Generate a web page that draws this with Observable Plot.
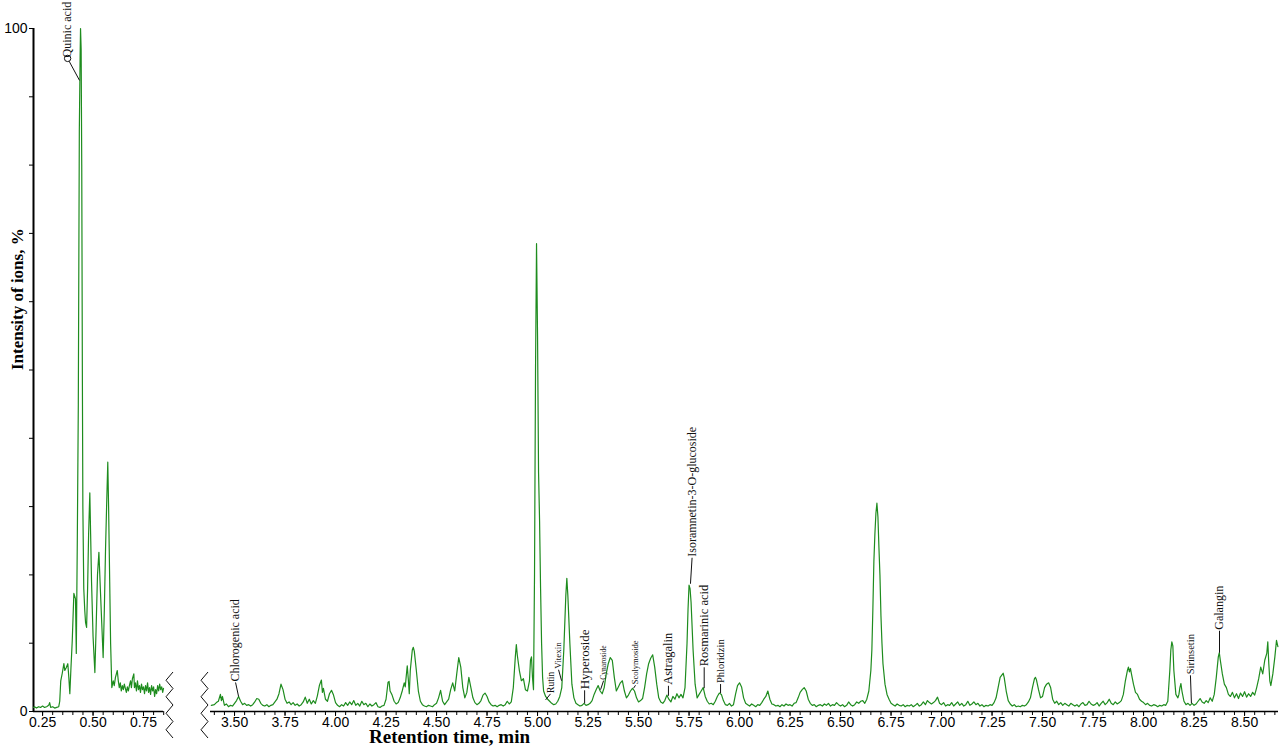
<!DOCTYPE html>
<html>
<head>
<meta charset="utf-8">
<script src="https://cdn.jsdelivr.net/npm/d3@7"></script>
<script src="https://cdn.jsdelivr.net/npm/@observablehq/plot@0.6"></script>
<style>
  body { margin: 0; background: #fff; }
  #wrap { position: relative; width: 1280px; height: 748px; overflow: hidden; background: #fff; }
  #wrap > svg { position: absolute; top: 0; }
</style>
</head>
<body>
<div id="wrap"></div>
<script>
// ---------------- DATA ----------------
// Left segment of the chromatogram: [retention time (min), intensity (%)]
const leftTrace = [
  [0.205,0.6],[0.21,0.7],[0.22,0.5],[0.23,0.7],[0.24,0.6],[0.25,0.8],[0.26,0.6],[0.27,0.7],[0.28,0.9],[0.285,1.3],
  [0.29,0.6],[0.30,0.7],[0.31,0.5],[0.32,0.6],[0.33,0.7],[0.335,1.5],[0.34,4.5],[0.3475,5.6],[0.3555,7.0],[0.36,6.0],
  [0.367,6.4],[0.375,7.0],[0.38,5.0],[0.385,2.6],[0.39,6.0],[0.397,10.4],[0.405,17.3],[0.413,16.5],[0.417,8.5],[0.422,25],
  [0.427,45],[0.432,85],[0.436,96],[0.438,100],[0.441,97],[0.444,80],[0.447,50],[0.4495,30],[0.454,18],[0.459,14.8],
  [0.463,13],[0.468,12.3],[0.473,18],[0.478,26],[0.484,32],[0.488,26],[0.4925,19],[0.50,11],[0.509,5.7],[0.515,12],
  [0.522,20],[0.529,23.3],[0.537,17.3],[0.543,13],[0.55,7.9],[0.556,15],[0.562,24],[0.568,31],[0.573,36.5],[0.577,30],
  [0.580,24],[0.587,10],[0.593,3.5],[0.60,4.5],[0.605,3.8],[0.611,5.0],[0.62,6.0],[0.625,4.5],[0.63,3.5],[0.635,4.2],
  [0.64,3.0],[0.645,3.8],[0.65,3.2],[0.655,4.0],[0.66,3.4],[0.665,2.8],[0.67,3.6],[0.675,3.0],[0.68,3.8],[0.686,4.5],
  [0.69,3.5],[0.695,4.8],[0.702,5.5],[0.705,3.5],[0.71,4.2],[0.715,3.0],[0.72,4.5],[0.725,3.2],[0.73,3.8],[0.735,2.8],
  [0.74,4.0],[0.745,3.2],[0.75,3.6],[0.755,2.6],[0.76,3.8],[0.765,3.0],[0.77,4.2],[0.775,2.8],[0.78,3.5],[0.785,2.5],
  [0.79,3.8],[0.795,3.0],[0.80,3.6],[0.805,2.2],[0.81,3.2],[0.815,2.6],[0.82,3.8],[0.825,3.0],[0.83,4.0],[0.835,3.2],
  [0.84,3.6],[0.845,2.8],[0.849,3.4]
];

// Right segment of the chromatogram: [retention time (min), intensity (%)]
const rightTrace = [
  [3.385,0.9],[3.40,1.0],[3.41,1.3],[3.42,1.5],[3.43,2.5],[3.435,1.6],[3.44,2.2],[3.45,0.9],[3.46,1.1],[3.47,0.7],
  [3.48,0.9],[3.49,0.8],[3.50,1.2],[3.51,1.6],[3.52,2.2],[3.53,1.5],[3.54,1.0],[3.55,1.2],[3.56,0.9],[3.57,1.0],
  [3.58,0.8],[3.59,1.0],[3.60,1.4],[3.61,1.9],[3.62,1.8],[3.63,1.2],[3.64,0.9],[3.65,0.8],[3.66,1.0],[3.67,0.7],
  [3.68,0.9],[3.69,1.0],[3.70,1.4],[3.71,1.8],[3.72,2.6],[3.73,4.0],[3.74,3.2],[3.75,1.8],[3.76,1.2],[3.77,1.4],
  [3.78,1.0],[3.79,1.3],[3.80,0.9],[3.81,1.1],[3.82,0.8],[3.83,1.0],[3.84,1.4],[3.85,2.1],[3.86,1.2],[3.87,1.8],
  [3.88,1.1],[3.89,1.6],[3.90,1.2],[3.91,2.3],[3.92,3.8],[3.93,4.6],[3.935,2.8],[3.94,3.4],[3.95,1.8],[3.96,1.5],
  [3.97,2.6],[3.98,3.1],[3.99,2.4],[4.00,1.3],[4.01,0.9],[4.02,0.7],[4.03,1.0],[4.04,0.8],[4.05,1.3],[4.06,0.9],
  [4.07,1.4],[4.08,1.0],[4.09,1.6],[4.10,0.9],[4.11,1.2],[4.12,0.8],[4.13,1.5],[4.14,1.0],[4.15,1.2],[4.16,0.7],
  [4.17,1.1],[4.18,0.8],[4.19,1.0],[4.20,1.3],[4.21,0.7],[4.22,0.6],[4.23,0.8],[4.24,0.9],[4.25,1.8],[4.26,4.3],
  [4.265,4.4],[4.27,3.0],[4.28,2.4],[4.29,1.5],[4.30,1.1],[4.31,1.3],[4.32,2.0],[4.33,3.0],[4.34,4.2],[4.345,3.6],
  [4.355,6.7],[4.36,4.8],[4.365,2.6],[4.37,6.0],[4.38,9.0],[4.385,9.4],[4.39,8.8],[4.40,6.0],[4.41,3.0],[4.42,1.5],
  [4.43,1.0],[4.44,0.8],[4.45,0.7],[4.46,0.9],[4.47,0.8],[4.48,0.7],[4.49,1.0],[4.50,1.2],[4.51,2.0],[4.52,3.1],
  [4.53,1.5],[4.54,1.0],[4.55,1.4],[4.56,1.8],[4.57,3.2],[4.58,4.2],[4.59,3.0],[4.60,5.5],[4.61,7.9],[4.62,6.5],
  [4.63,3.5],[4.64,2.0],[4.65,2.8],[4.66,5.0],[4.67,3.5],[4.68,2.0],[4.69,1.3],[4.70,1.0],[4.71,1.2],[4.72,1.6],
  [4.73,2.4],[4.74,2.7],[4.75,2.2],[4.76,1.4],[4.77,1.0],[4.78,0.8],[4.79,0.9],[4.80,0.7],[4.81,0.9],[4.82,1.0],
  [4.83,0.8],[4.84,1.0],[4.85,1.5],[4.86,1.1],[4.87,1.4],[4.88,3.5],[4.89,8.0],[4.895,9.8],[4.90,8.2],[4.91,6.0],
  [4.92,4.5],[4.93,4.8],[4.94,3.2],[4.95,3.0],[4.96,4.5],[4.965,7.5],[4.97,8.0],[4.975,5.0],[4.98,3.2],[4.985,20],
  [4.99,50],[4.995,68.5],[5.00,55],[5.005,35],[5.01,28],[5.015,18],[5.02,10],[5.025,5],[5.03,3.0],[5.04,2.2],
  [5.05,1.8],[5.06,1.5],[5.07,1.2],[5.08,1.0],[5.09,1.1],[5.10,1.5],[5.11,2.2],[5.12,3.5],[5.13,9],[5.14,17],
  [5.145,19.5],[5.15,17],[5.16,10],[5.17,4],[5.18,2],[5.19,1.2],[5.20,1.0],[5.21,0.8],[5.22,0.9],[5.23,1.2],
  [5.24,0.9],[5.25,1.0],[5.26,1.2],[5.27,1.6],[5.28,2.5],[5.29,3.2],[5.30,3.8],[5.31,3.0],[5.32,2.6],[5.33,3.5],
  [5.34,5.5],[5.35,7.0],[5.36,7.9],[5.37,7.5],[5.38,5.0],[5.39,3.0],[5.40,3.6],[5.41,4.2],[5.42,4.5],[5.43,3.0],
  [5.44,2.0],[5.45,2.4],[5.46,3.0],[5.47,3.4],[5.48,3.0],[5.49,2.0],[5.50,1.4],[5.51,1.6],[5.52,1.9],[5.53,3.5],
  [5.54,5.5],[5.55,7.0],[5.56,7.8],[5.57,8.3],[5.58,6.5],[5.59,4.0],[5.60,2.0],[5.61,1.4],[5.62,1.2],[5.63,1.6],
  [5.64,2.4],[5.65,1.8],[5.66,1.4],[5.67,2.2],[5.68,1.8],[5.69,2.6],[5.70,2.0],[5.71,2.5],[5.72,2.0],[5.73,3.5],
  [5.74,10],[5.745,15],[5.75,18.5],[5.755,18],[5.76,16],[5.77,9],[5.78,4],[5.79,2.0],[5.80,2.5],[5.81,3.0],
  [5.82,3.5],[5.83,2.2],[5.84,1.5],[5.85,1.1],[5.86,1.2],[5.87,1.0],[5.88,1.5],[5.89,2.2],[5.90,2.7],[5.91,2.5],
  [5.92,1.6],[5.93,1.0],[5.94,0.9],[5.95,1.2],[5.96,0.8],[5.97,1.0],[5.98,2.5],[5.99,3.8],[6.00,4.2],[6.01,3.6],
  [6.02,2.0],[6.03,1.2],[6.04,1.0],[6.05,0.8],[6.06,1.1],[6.07,0.9],[6.08,0.7],[6.09,1.0],[6.10,0.9],[6.11,1.3],
  [6.12,1.8],[6.13,2.2],[6.14,3.0],[6.15,1.8],[6.16,1.1],[6.17,1.0],[6.18,0.8],[6.19,0.9],[6.20,0.7],[6.21,1.0],
  [6.22,0.8],[6.23,1.1],[6.24,0.9],[6.25,1.0],[6.26,0.8],[6.27,1.2],[6.28,1.3],[6.29,2.0],[6.30,2.8],[6.31,3.2],
  [6.32,3.5],[6.33,3.0],[6.34,1.8],[6.35,1.2],[6.36,0.9],[6.37,1.0],[6.38,0.7],[6.39,0.9],[6.40,1.0],[6.41,0.8],
  [6.42,1.1],[6.43,0.9],[6.44,1.2],[6.45,0.8],[6.46,1.0],[6.47,0.9],[6.48,1.3],[6.49,1.0],[6.50,0.8],[6.51,1.0],
  [6.52,0.7],[6.53,0.9],[6.54,1.4],[6.55,1.0],[6.56,0.8],[6.57,1.0],[6.58,1.4],[6.59,1.2],[6.60,1.5],[6.61,1.6],
  [6.62,1.2],[6.63,1.8],[6.64,3.0],[6.65,6.0],[6.655,9],[6.66,15],[6.665,22],[6.67,26],[6.675,29],[6.68,30.5],
  [6.685,28.5],[6.69,24],[6.695,20],[6.70,14],[6.705,10],[6.71,7],[6.72,4],[6.73,2.5],[6.74,1.8],[6.75,1.2],
  [6.76,1.0],[6.77,0.8],[6.78,1.1],[6.79,0.9],[6.80,0.8],[6.81,1.0],[6.82,0.7],[6.83,0.9],[6.84,0.8],[6.85,1.0],
  [6.86,0.7],[6.87,0.9],[6.88,1.2],[6.89,0.8],[6.90,1.0],[6.91,1.4],[6.92,1.0],[6.93,1.6],[6.94,1.3],[6.95,1.1],
  [6.96,1.3],[6.97,1.6],[6.98,2.1],[6.99,1.2],[7.00,1.0],[7.01,1.3],[7.02,0.8],[7.03,1.0],[7.04,0.9],[7.05,1.3],
  [7.06,0.8],[7.07,1.1],[7.08,1.4],[7.09,0.9],[7.10,1.2],[7.11,0.8],[7.12,1.0],[7.13,1.5],[7.14,0.9],[7.15,1.1],
  [7.16,1.4],[7.17,1.0],[7.18,1.2],[7.19,0.8],[7.20,1.0],[7.21,0.7],[7.22,0.9],[7.23,0.8],[7.24,1.0],[7.25,0.9],
  [7.26,1.3],[7.27,2.0],[7.28,3.5],[7.29,5.0],[7.30,5.4],[7.305,5.6],[7.31,5.0],[7.32,3.0],[7.33,1.6],[7.34,1.1],
  [7.35,0.8],[7.36,1.0],[7.37,0.7],[7.38,0.8],[7.39,0.7],[7.40,0.9],[7.41,0.8],[7.42,1.0],[7.43,1.4],[7.44,2.0],
  [7.45,3.5],[7.46,4.8],[7.465,5.0],[7.47,4.6],[7.48,3.2],[7.49,2.0],[7.50,2.2],[7.51,3.5],[7.52,4.0],[7.53,4.2],
  [7.54,3.5],[7.55,1.8],[7.56,1.2],[7.57,1.5],[7.58,1.0],[7.59,1.3],[7.60,0.9],[7.61,1.2],[7.62,1.0],[7.63,0.8],
  [7.64,1.2],[7.65,1.0],[7.66,0.8],[7.67,1.0],[7.68,0.7],[7.69,1.1],[7.70,1.3],[7.71,0.9],[7.72,1.0],[7.73,1.5],
  [7.74,1.1],[7.75,0.9],[7.76,1.0],[7.77,1.3],[7.78,0.8],[7.79,1.2],[7.80,1.5],[7.81,1.0],[7.82,1.3],[7.83,1.8],
  [7.84,1.2],[7.85,1.0],[7.86,1.4],[7.87,1.1],[7.88,1.3],[7.89,1.6],[7.90,2.5],[7.91,4.5],[7.92,6.0],[7.925,6.5],
  [7.93,5.8],[7.935,6.3],[7.94,5.5],[7.95,4.0],[7.96,2.8],[7.97,2.5],[7.98,1.8],[7.99,1.5],[8.00,1.3],[8.01,1.0],
  [8.02,1.2],[8.03,0.9],[8.04,0.8],[8.05,1.0],[8.06,0.9],[8.07,0.7],[8.08,0.9],[8.09,0.8],[8.10,1.0],[8.11,0.9],
  [8.12,1.5],[8.13,6],[8.135,9],[8.14,10.2],[8.145,9.6],[8.15,6],[8.16,2.5],[8.17,2.0],[8.175,2.5],[8.18,3.5],
  [8.185,4.1],[8.19,3.0],[8.20,1.5],[8.21,1.0],[8.22,1.2],[8.23,0.9],[8.24,1.2],[8.25,0.9],[8.26,1.1],[8.27,1.5],
  [8.28,1.9],[8.29,1.4],[8.30,1.2],[8.31,1.6],[8.32,1.3],[8.33,2.0],[8.34,1.5],[8.35,2.5],[8.36,5.0],[8.37,8.0],
  [8.375,8.6],[8.38,7.5],[8.39,5.5],[8.40,4.0],[8.41,3.5],[8.42,2.5],[8.43,2.2],[8.44,2.8],[8.45,2.0],[8.46,2.6],
  [8.47,1.9],[8.48,2.7],[8.49,2.2],[8.50,2.9],[8.51,2.1],[8.52,2.6],[8.53,2.2],[8.54,2.8],[8.55,2.4],[8.56,3.5],
  [8.57,4.8],[8.58,6.5],[8.59,5.5],[8.60,7.5],[8.61,8.5],[8.615,10.2],[8.62,7.0],[8.625,4.5],[8.63,3.8],[8.64,5.5],
  [8.65,8.0],[8.658,10.4],[8.665,9.5]
];

// Compound annotations
const compoundNames = ["Quinic acid","Chlorogenic acid","Rutin","Vitexin","Hyperoside","Cynaroside","Scolymoside",
  "Astragalin","Isoramnetin-3-O-glucoside","Rosmarinic acid","Phloridzin","Sirinsetin","Galangin"];
const compoundPeakTime  = [0.433, 3.52, 5.040, 5.119, 5.233, 5.312, 5.475, 5.648, 5.757, 5.825, 5.906, 8.237, 8.376];
const compoundPeakValue = [92.4, 2.2, 1.7, 4.5, 1.2, 3.2, 3.4, 2.3, 18.7, 3.4, 2.7, 1.2, 8.6];
const compoundLabelTime = [0.374, 3.505, 5.064, 5.104, 5.233, 5.327, 5.485, 5.648, 5.765, 5.825, 5.906, 8.232, 8.376];

// Axis ticks
const leftMajorTicks  = [0.25, 0.50, 0.75];
const rightMajorTicks = [3.50, 3.75, 4.00, 4.25, 4.50, 4.75, 5.00, 5.25, 5.50, 5.75, 6.00, 6.25, 6.50, 6.75, 7.00, 7.25, 7.50, 7.75, 8.00, 8.25, 8.50];
const yTickValues = [0, 10, 20, 30, 40, 50, 60, 70, 80, 90, 100];
const yTickLabels = {0: "0", 100: "100"};

// ---------------- STYLE / LAYOUT ----------------
const H = 748, MT = 28, MB = 37;
const pxPerPct = (H - MT - MB) / 100;
const green = "#1e8c1e";
const serif = "'Liberation Serif', 'Times New Roman', serif";
const sans = "'Liberation Sans', Arial, sans-serif";
// leader length (px) and font size per annotation
const leaderPx = [22, 14, 6, 11, 13, 9, 3, 10, 26, 21, 9, 28, 22];
const labelFont = [12, 12, 9.5, 9, 13, 7.5, 8.5, 12.5, 12, 12.5, 10.5, 10.5, 12];

const annotations = compoundNames.map((name, i) => ({
  name,
  peakTime: compoundPeakTime[i],
  peakValue: compoundPeakValue[i],
  labelTime: compoundLabelTime[i],
  base: compoundPeakValue[i] + leaderPx[i] / pxPerPct,
  size: labelFont[i]
}));
const leftAnn = annotations.filter(d => d.peakTime < 2);
const rightAnn = annotations.filter(d => d.peakTime >= 2);
const leftData = leftTrace.map(([t, v]) => ({t, v}));
const rightData = rightTrace.map(([t, v]) => ({t, v}));

const leftDomain = [0.205, 0.849];
const rightDomain = [3.381, 8.668];
const leftMinor = d3.range(0.25, 0.851, 0.05);
const rightMinor = d3.range(3.40, 8.66, 0.05);

const baseStyle = {fontFamily: sans, fontSize: "14px", background: "transparent", overflow: "visible", color: "black"};

function annotationMarks(ann, withDot) {
  return [
    Plot.link(ann, {x1: "peakTime", y1: "peakValue", x2: "labelTime", y2: "base", stroke: "#111", strokeWidth: 1}),
    withDot ? Plot.dot(ann, {x: "labelTime", y: "base", r: 3.2, stroke: "#111", fill: "white", strokeWidth: 1}) : null,
    Plot.text(ann, {x: "labelTime", y: "base", text: "name", rotate: -90, textAnchor: "start",
      fontSize: d => d.size, fontFamily: serif, fill: "#111", dy: -1})
  ];
}

const leftPlot = Plot.plot({
  width: 172, height: H, marginLeft: 33, marginRight: 9, marginTop: MT, marginBottom: MB,
  x: {domain: leftDomain, axis: null, label: null},
  y: {domain: [0, 100], axis: null, label: null},
  style: baseStyle,
  marks: [
    Plot.axisX({ticks: leftMinor, tickSize: 4, tickFormat: () => "", label: null}),
    Plot.axisX({ticks: leftMajorTicks, tickSize: 5, tickPadding: 1, tickFormat: d3.format(".2f"), label: null, fontSize: 14}),
    Plot.axisY({ticks: yTickValues, tickSize: 4, tickPadding: 2, tickFormat: d => yTickLabels[d] ?? "", label: null, fontSize: 14}),
    Plot.ruleY([0], {stroke: "black", strokeWidth: 1.6}),
    Plot.ruleX([leftDomain[0]], {stroke: "black", strokeWidth: 2}),
    Plot.line(leftData, {x: "t", y: "v", stroke: green, strokeWidth: 1.2}),
    ...annotationMarks(leftAnn, true),
    Plot.text(["Intensity of ions, %"], {text: d => d, frameAnchor: "left", dx: -16, rotate: -90,
      fontFamily: serif, fontWeight: "bold", fontSize: 17, fill: "black"})
  ]
});

const rightPlot = Plot.plot({
  width: 1108, height: H, marginLeft: 38, marginRight: 2, marginTop: MT, marginBottom: MB,
  x: {domain: rightDomain, axis: null, label: null},
  y: {domain: [0, 100], axis: null, label: null},
  style: baseStyle,
  marks: [
    Plot.axisX({ticks: rightMinor, tickSize: 4, tickFormat: () => "", label: null}),
    Plot.axisX({ticks: rightMajorTicks, tickSize: 5, tickPadding: 1, tickFormat: d3.format(".2f"), label: null, fontSize: 14}),
    Plot.ruleY([0], {stroke: "black", strokeWidth: 1.6}),
    Plot.line(rightData, {x: "t", y: "v", stroke: green, strokeWidth: 1.2}),
    ...annotationMarks(rightAnn, false),
    Plot.text(["Retention time, min"], {text: d => d, frameAnchor: "bottom-left", textAnchor: "middle", dx: 239, dy: 31,
      fontFamily: serif, fontWeight: "bold", fontSize: 19, fill: "black"})
  ]
});

const wrap = document.getElementById("wrap");
leftPlot.style.left = "0px";
rightPlot.style.left = "172px";
wrap.appendChild(leftPlot);
wrap.appendChild(rightPlot);

// Axis-break zigzag symbols
const overlay = d3.create("svg").attr("width", 1280).attr("height", H)
  .style("position", "absolute").style("left", "0px").style("top", "0px").style("pointer-events", "none");
function zigzag(xa, xb, y0, y1, n) {
  const pts = d3.range(n + 1).map(i => [i % 2 === 0 ? xa : xb, y0 + (y1 - y0) * i / n]);
  overlay.append("path").attr("d", d3.line()(pts)).attr("fill", "none").attr("stroke", "#111").attr("stroke-width", 1);
}
const leftEnd = 172 - 9;
zigzag(leftEnd + 10, leftEnd + 3, H - MB - 39, H - 10, 8);
zigzag(172 + 36, 172 + 29, H - MB - 39, H - 10, 8);
wrap.appendChild(overlay.node());
</script>
</body>
</html>
